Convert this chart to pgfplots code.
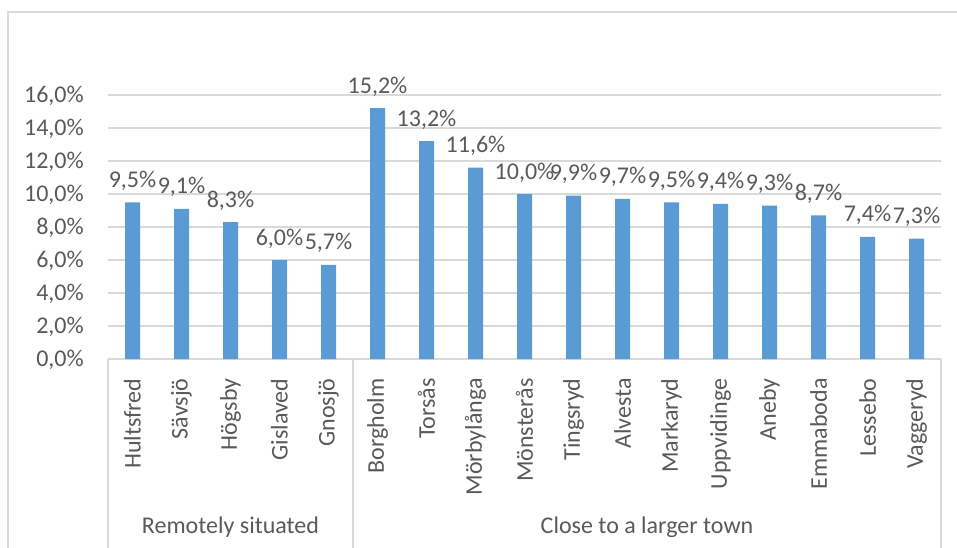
\documentclass[border=0pt]{standalone}
\usepackage{fontspec}
\setmainfont{Carlito}
\usepackage{pgfplots}
\pgfplotsset{compat=1.18}
\definecolor{barblue}{HTML}{5B9BD5}
\definecolor{txt}{HTML}{595959}
\definecolor{gridc}{HTML}{D9D9D9}
\newcommand{\lbl}{\fontsize{24}{28}\selectfont}
\begin{document}
\begin{tikzpicture}[x=1pt,y=1pt]
\path[use as bounding box] (0,0) rectangle (957,547);
\draw[gridc, line width=1.2pt] (8,-10) -- (8,535) -- (970,535);
\begin{axis}[
  at={(108pt,188pt)}, anchor=south west,
  scale only axis, width=833pt, height=264pt,
  ymin=0, ymax=16, xmin=-0.5, xmax=16.5,
  ybar, bar width=15pt,
  clip=false,
  axis line style={draw=none},
  tick style={draw=none},
  ytick={0,2,...,16},
  ymajorgrids, grid style={gridc, line width=1.2pt},
  /pgf/number format/.cd, fixed, fixed zerofill, precision=1, use comma, assume math mode=true,
  /pgfplots/.cd,
  yticklabel={\pgfmathprintnumber{\tick}\%},
  yticklabel style={anchor=base east, inner sep=0pt, xshift=-24pt, yshift=-7.6pt, font=\lbl, text=txt},
  xtick={0,...,16},
  xticklabels={Hultsfred,Sävsjö,Högsby,Gislaved,Gnosjö,Borgholm,Torsås,Mörbylånga,Mönsterås,Tingsryd,Alvesta,Markaryd,Uppvidinge,Aneby,Emmaboda,Lessebo,Vaggeryd},
  xticklabel style={yshift=-15pt, rotate=90, anchor=east, inner sep=0pt, font=\lbl, text=txt},
  nodes near coords={\pgfmathprintnumber{\pgfplotspointmeta}\%},
  every node near coord/.append style={font=\lbl, text=txt, anchor=base, yshift=15pt},
]
\addplot[fill=barblue, draw=none] coordinates {
(0,9.5) (1,9.1) (2,8.3) (3,6.0) (4,5.7) (5,15.2) (6,13.2) (7,11.6) (8,10.0)
(9,9.9) (10,9.7) (11,9.5) (12,9.4) (13,9.3) (14,8.7) (15,7.4) (16,7.3)};
\draw[gridc, line width=1.2pt] (axis cs:-0.5,0) -- ++(0pt,-200pt);
\draw[gridc, line width=1.2pt] (axis cs:4.5,0) -- ++(0pt,-200pt);
\draw[gridc, line width=1.2pt] (axis cs:16.5,0) -- ++(0pt,-200pt);
\node[anchor=base, font=\lbl, text=txt, inner sep=0pt] at (axis cs:2,0) [yshift=-174pt] {Remotely situated};
\node[anchor=base, font=\lbl, text=txt, inner sep=0pt] at (axis cs:10.5,0) [yshift=-174pt] {Close to a larger town};
\end{axis}
\end{tikzpicture}
\end{document}
